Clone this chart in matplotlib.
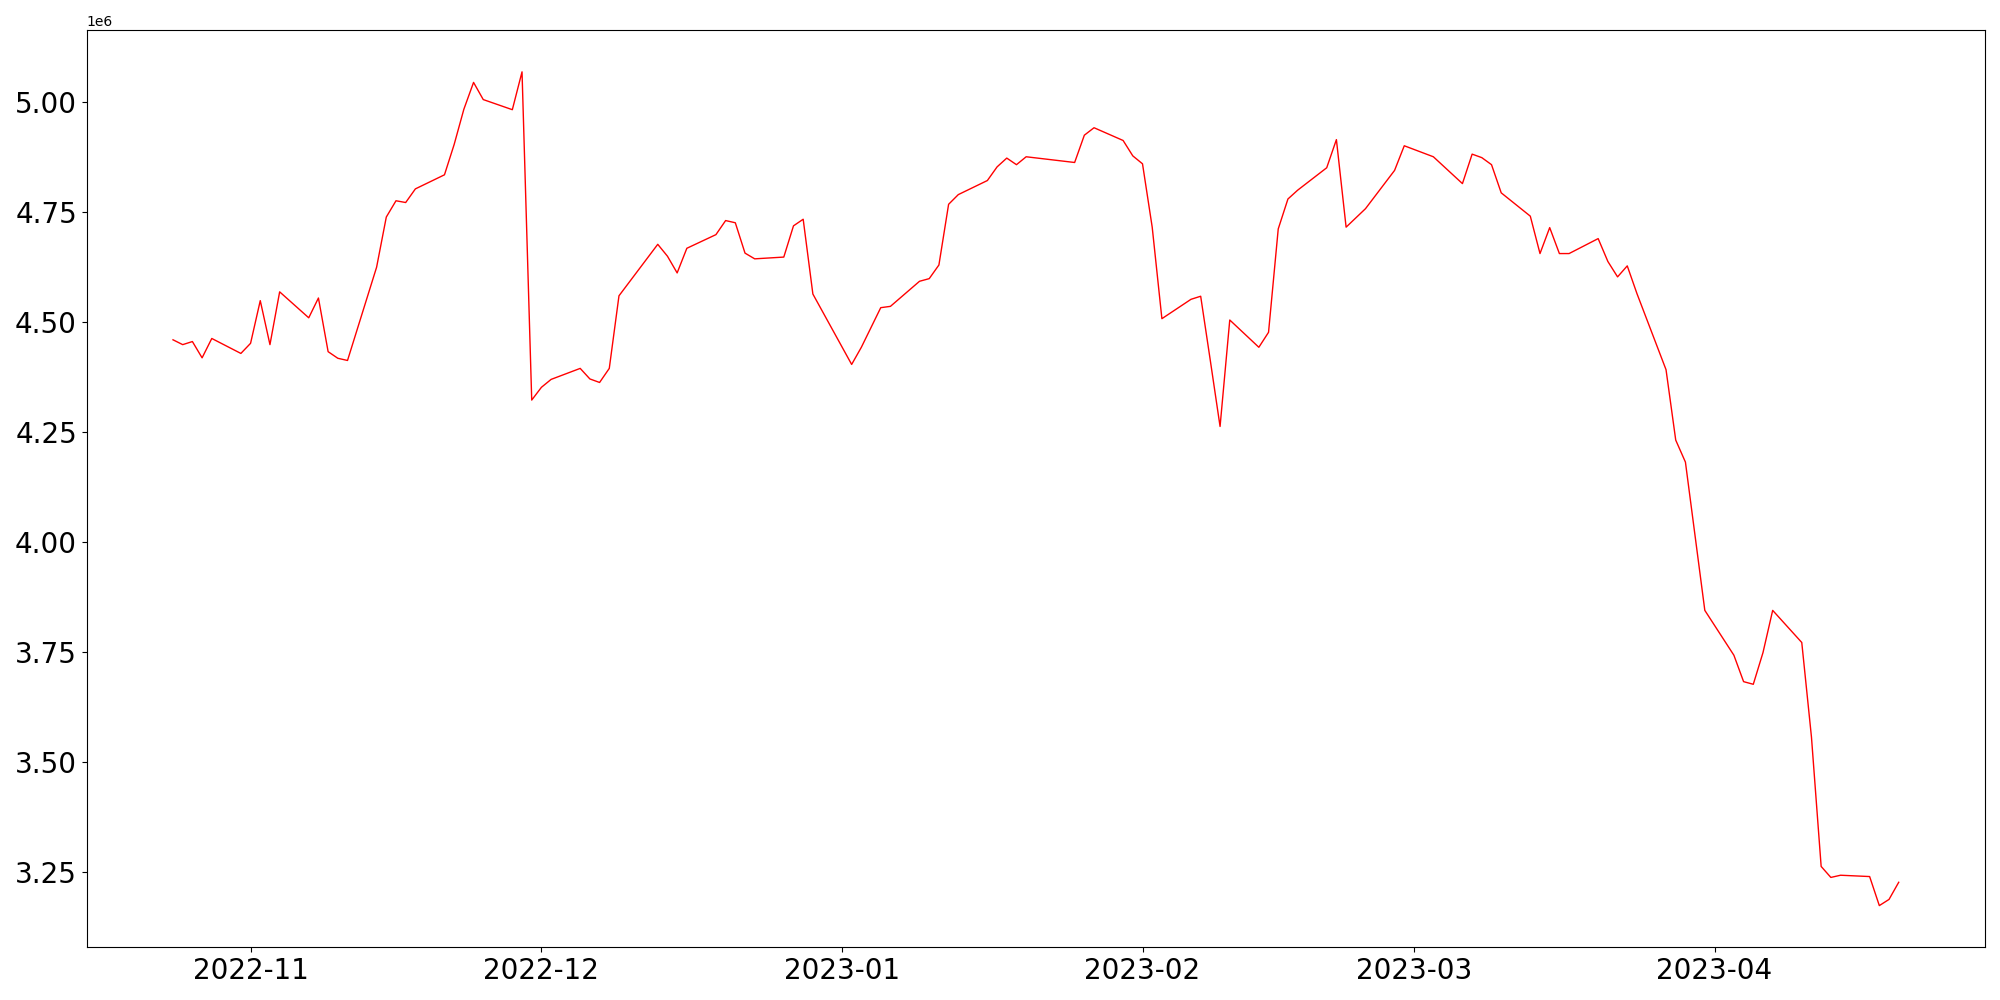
import pandas as pd
import matplotlib
matplotlib.use("Agg")
import matplotlib.pyplot as plt

# Trading dates and closing values (in units of 1e6)
dates = [
    "2022-10-24", "2022-10-25", "2022-10-26", "2022-10-27", "2022-10-28",
    "2022-10-31", "2022-11-01", "2022-11-02", "2022-11-03", "2022-11-04",
    "2022-11-07", "2022-11-08", "2022-11-09", "2022-11-10", "2022-11-11",
    "2022-11-14", "2022-11-15", "2022-11-16", "2022-11-17", "2022-11-18",
    "2022-11-21", "2022-11-22", "2022-11-23", "2022-11-24", "2022-11-25",
    "2022-11-28", "2022-11-29", "2022-11-30", "2022-12-01", "2022-12-02",
    "2022-12-05", "2022-12-06", "2022-12-07", "2022-12-08", "2022-12-09",
    "2022-12-13", "2022-12-14", "2022-12-15", "2022-12-16",
    "2022-12-19", "2022-12-20", "2022-12-21", "2022-12-22", "2022-12-23",
    "2022-12-26", "2022-12-27", "2022-12-28", "2022-12-29",
    "2023-01-02", "2023-01-03", "2023-01-05", "2023-01-06",
    "2023-01-09", "2023-01-10", "2023-01-11", "2023-01-12", "2023-01-13",
    "2023-01-16", "2023-01-17", "2023-01-18", "2023-01-19", "2023-01-20",
    "2023-01-25", "2023-01-26", "2023-01-27",
    "2023-01-30", "2023-01-31", "2023-02-01", "2023-02-02", "2023-02-03",
    "2023-02-06", "2023-02-07", "2023-02-08", "2023-02-09", "2023-02-10",
    "2023-02-13", "2023-02-14", "2023-02-15", "2023-02-16", "2023-02-17",
    "2023-02-20", "2023-02-21", "2023-02-22", "2023-02-24",
    "2023-02-27", "2023-02-28", "2023-03-03",
    "2023-03-06", "2023-03-07", "2023-03-08", "2023-03-09", "2023-03-10",
    "2023-03-13", "2023-03-14", "2023-03-15", "2023-03-16", "2023-03-17",
    "2023-03-20", "2023-03-21", "2023-03-22", "2023-03-23", "2023-03-24",
    "2023-03-27", "2023-03-28", "2023-03-29", "2023-03-31",
    "2023-04-03", "2023-04-04", "2023-04-05", "2023-04-06", "2023-04-07",
    "2023-04-10", "2023-04-11", "2023-04-12", "2023-04-13", "2023-04-14",
    "2023-04-17", "2023-04-18", "2023-04-19", "2023-04-20",
]

values = [
    4.460, 4.449, 4.456, 4.419, 4.463,
    4.429, 4.452, 4.549, 4.449, 4.569,
    4.510, 4.555, 4.433, 4.418, 4.413,
    4.625, 4.739, 4.776, 4.772, 4.803,
    4.835, 4.904, 4.984, 5.045, 5.006,
    4.983, 5.069, 4.323, 4.352, 4.370,
    4.395, 4.371, 4.363, 4.395, 4.560,
    4.677, 4.650, 4.612, 4.668,
    4.699, 4.731, 4.726, 4.657, 4.644,
    4.648, 4.719, 4.734, 4.564,
    4.404, 4.443, 4.533, 4.536,
    4.593, 4.599, 4.630, 4.768, 4.790,
    4.822, 4.853, 4.873, 4.858, 4.876,
    4.863, 4.925, 4.942,
    4.913, 4.878, 4.860, 4.716, 4.508,
    4.552, 4.559, 4.412, 4.263, 4.505,
    4.443, 4.477, 4.712, 4.780, 4.800,
    4.851, 4.915, 4.716, 4.758,
    4.845, 4.901, 4.876,
    4.815, 4.882, 4.874, 4.858, 4.794,
    4.741, 4.656, 4.715, 4.656, 4.656,
    4.690, 4.638, 4.603, 4.628, 4.565,
    4.392, 4.232, 4.182, 3.845,
    3.743, 3.683, 3.677, 3.749, 3.845,
    3.772, 3.557, 3.263, 3.238, 3.243,
    3.240, 3.174, 3.188, 3.227,
]

x = pd.to_datetime(dates)
y = [v * 1e6 for v in values]

fig = plt.figure(figsize=(20, 10))
plt.plot(x, y, color="red", linewidth=1)
plt.xticks(fontsize=20)
plt.yticks(fontsize=20)
plt.tight_layout()
plt.savefig("out.png", dpi=100)
plt.close()
